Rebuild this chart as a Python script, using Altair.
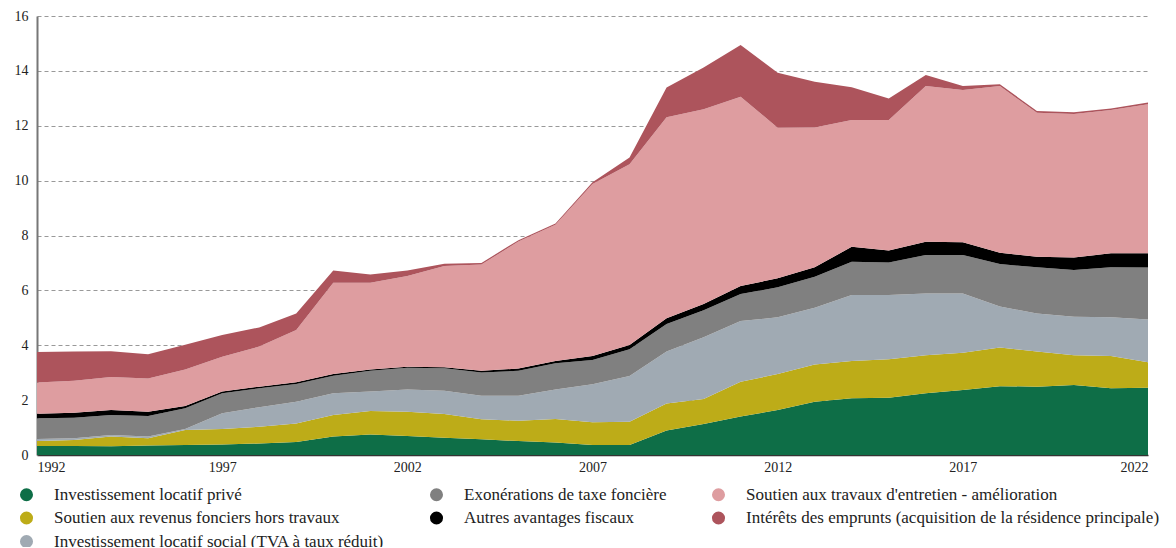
import altair as alt
import pandas as pd

years = list(range(1992, 2023))

prive = [0.33, 0.33, 0.32, 0.35, 0.36, 0.38, 0.42, 0.47, 0.67, 0.75, 0.69, 0.63, 0.57, 0.51, 0.46, 0.36,
         0.36, 0.89, 1.13, 1.40, 1.64, 1.94, 2.07, 2.09, 2.25, 2.37, 2.51, 2.49, 2.55, 2.43, 2.45]
revenus = [0.18, 0.22, 0.35, 0.26, 0.55, 0.57, 0.61, 0.68, 0.79, 0.85, 0.89, 0.86, 0.73, 0.74, 0.85, 0.83,
           0.85, 0.99, 0.91, 1.27, 1.31, 1.36, 1.36, 1.40, 1.39, 1.36, 1.41, 1.28, 1.09, 1.18, 0.93]
social = [0.07, 0.06, 0.06, 0.06, 0.04, 0.57, 0.71, 0.79, 0.79, 0.71, 0.81, 0.85, 0.86, 0.91, 1.08, 1.39,
          1.67, 1.89, 2.25, 2.21, 2.07, 2.07, 2.40, 2.34, 2.25, 2.16, 1.49, 1.39, 1.40, 1.41, 1.56]
exoneration = [0.76, 0.75, 0.73, 0.75, 0.75, 0.73, 0.69, 0.65, 0.64, 0.76, 0.79, 0.82, 0.85, 0.91, 0.95, 0.88,
               0.97, 1.00, 0.99, 0.99, 1.09, 1.13, 1.21, 1.19, 1.40, 1.40, 1.55, 1.68, 1.70, 1.82, 1.89]
autres = [0.16, 0.18, 0.18, 0.16, 0.09, 0.06, 0.06, 0.06, 0.06, 0.05, 0.04, 0.04, 0.06, 0.08, 0.09, 0.15,
          0.16, 0.21, 0.22, 0.29, 0.33, 0.34, 0.55, 0.43, 0.48, 0.46, 0.41, 0.39, 0.46, 0.51, 0.52]
travaux = [1.14, 1.17, 1.20, 1.21, 1.33, 1.27, 1.46, 1.91, 3.33, 3.16, 3.30, 3.69, 3.87, 4.63, 4.96, 6.27,
           6.59, 7.33, 7.10, 6.90, 5.49, 5.10, 4.62, 4.76, 5.68, 5.55, 6.08, 5.24, 5.23, 5.22, 5.43]
interets = [1.11, 1.06, 0.94, 0.88, 0.90, 0.79, 0.70, 0.60, 0.44, 0.30, 0.20, 0.08, 0.06, 0.05, 0.05, 0.06,
            0.24, 1.08, 1.52, 1.88, 2.00, 1.66, 1.19, 0.78, 0.40, 0.15, 0.06, 0.07, 0.06, 0.06, 0.07]

# Series in stacking order (bottom to top)
series_names = [
    "Investissement locatif privé",
    "Soutien aux revenus fonciers hors travaux",
    "Investissement locatif social (TVA à taux réduit)",
    "Exonérations de taxe foncière",
    "Autres avantages fiscaux",
    "Soutien aux travaux d'entretien - amélioration",
    "Intérêts des emprunts (acquisition de la résidence principale)",
]
series_values = [prive, revenus, social, exoneration, autres, travaux, interets]
series_colors = ["#0E6E47", "#BDAC18", "#A0AAB3", "#808080", "#000000", "#DE9DA0", "#AD545C"]

# Legend order (row by row, 3 columns)
legend_order = [
    "Investissement locatif privé",
    "Exonérations de taxe foncière",
    "Soutien aux travaux d'entretien - amélioration",
    "Soutien aux revenus fonciers hors travaux",
    "Autres avantages fiscaux",
    "Intérêts des emprunts (acquisition de la résidence principale)",
    "Investissement locatif social (TVA à taux réduit)",
]
color_map = dict(zip(series_names, series_colors))

rows = []
for rank, (name, vals) in enumerate(zip(series_names, series_values)):
    for y, v in zip(years, vals):
        rows.append({"annee": y, "serie": name, "valeur": v, "ordre": rank})
df = pd.DataFrame(rows)

FONT = "Liberation Serif"

x_enc = alt.X("annee:Q", scale=alt.Scale(domain=[1992, 2022], nice=False, zero=False),
              axis=alt.Axis(values=[1992, 1997, 2002, 2007, 2012, 2017, 2022], format="d", title=None,
                            grid=False, ticks=False, labelPadding=5, domainColor="#333333",
                            domainWidth=1.5, labelFontSize=14, labelColor="#222222", labelFont=FONT))

areas = alt.Chart(df).mark_area(interpolate="linear").encode(
    x=x_enc,
    y=alt.Y("valeur:Q", stack="zero", scale=alt.Scale(domain=[0, 16], nice=False),
            axis=alt.Axis(values=list(range(0, 17, 2)), title=None, ticks=False, labelPadding=9,
                          domainColor="#777777", domainWidth=2, gridColor="#999999", gridDash=[4, 3],
                          gridWidth=1, labelFontSize=14, labelColor="#222222", labelFont=FONT)),
    color=alt.Color("serie:N", scale=alt.Scale(domain=series_names, range=series_colors), legend=None),
    order=alt.Order("ordre:Q", sort="ascending"),
)

# invisible points that only carry the legend, in the reference's legend order
legend_layer = alt.Chart(df).mark_point(opacity=0, filled=True).encode(
    x=alt.X("annee:Q"),
    y=alt.Y("valeur:Q", stack=None),
    color=alt.Color("serie:N",
                    scale=alt.Scale(domain=legend_order, range=[color_map[n] for n in legend_order]),
                    legend=alt.Legend(title=None, orient="none", legendX=-19, legendY=470, columns=3,
                                      direction="horizontal",
                                      symbolType="circle", symbolSize=170, symbolStrokeWidth=0,
                                      symbolOpacity=1,
                                      labelFontSize=17, labelFont=FONT, labelColor="#222222",
                                      labelLimit=600, labelOffset=19, rowPadding=5.5, columnPadding=43)),
)

chart = alt.layer(areas, legend_layer).resolve_scale(color="independent").properties(
    width=1111, height=439,
    autosize=alt.AutoSizeParams(type="none"),
    padding={"left": 29, "top": 8, "right": 20, "bottom": 92},
).configure_view(stroke=None)

chart.save("out.html", embed_options={"renderer": "svg", "actions": False})
